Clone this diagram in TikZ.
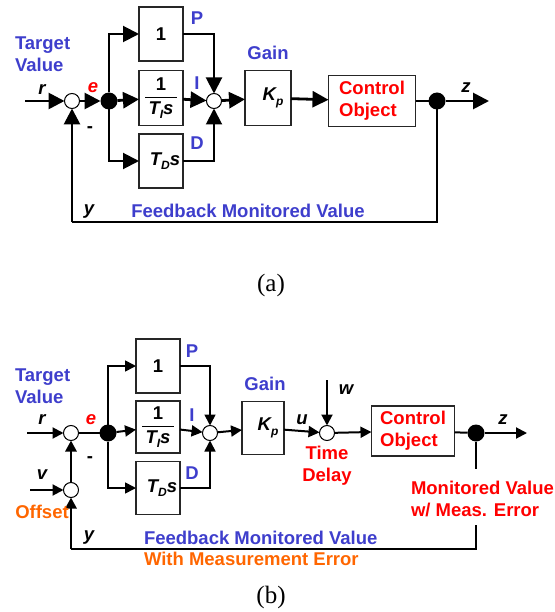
\documentclass[tikz,border=0pt]{standalone}
\usepackage{fontspec}
\usepackage{amsmath}
\setmainfont{Liberation Sans}
\newfontfamily\capfont{Liberation Serif}
\usetikzlibrary{arrows.meta}
\definecolor{lblblue}{RGB}{62,62,204}
\definecolor{lblred}{RGB}{255,0,0}
\definecolor{lblorange}{RGB}{255,102,0}
\newcommand{\lblsize}{\fontsize{18.5}{22}\selectfont}
\newcommand{\lowidx}[1]{\raisebox{-0.45ex}{\fontsize{12}{12}\selectfont #1}}
\newcommand{\fracTI}{$\genfrac{}{}{1.2pt}{0}{\text{\bfseries 1}}{\text{\bfseries\itshape\,T\lowidx{I}s\,}}$}

\begin{document}
\begin{tikzpicture}[
    x=1pt, y=-1pt,
    every node/.style={font=\lblsize\bfseries, inner sep=0pt, outer sep=0pt},
    blockbox/.style={draw=black!85, line width=1.2pt, fill=white},
    sumnode/.style={circle, draw=black, line width=1pt, fill=white, minimum size=15pt},
    dotnode/.style={circle, fill=black, minimum size=17pt},
    lblnode/.style={text=lblblue},
    varnode/.style={font=\lblsize\bfseries\itshape},
    capnode/.style={font=\capfont\fontsize{25}{28}\selectfont},
    tipA/.style={-{Triangle[length=16pt,width=16pt]}},
    tipB/.style={-{Triangle[length=11pt,width=11pt]}},
    sigA/.style={line width=2.8pt, tipA},
    branchA/.style={line width=2pt, tipA},
    fbA/.style={line width=1.5pt},
    sigB/.style={line width=2pt, tipB},
    branchB/.style={line width=1.7pt, tipB},
    fbB/.style={line width=1.7pt},
  ]
\useasboundingbox (0,0) rectangle (554,612);

% --- (a) PID loop
\node[sumnode] (sumA) at (72,101) {};
\node[dotnode] (juncA) at (109,101) {};
\node[blockbox, minimum width=44pt, minimum height=54pt] (boxPA) at (161,34) {1};
\node[blockbox, minimum width=44pt, minimum height=55pt] (boxIA) at (161,98) {\fracTI};
\node[blockbox, minimum width=44pt, minimum height=54pt] (boxDA) at (161,161) {\hspace*{8pt}\itshape T\lowidx{D}s};
\node[sumnode] (sumPidA) at (214,101) {};
\node[blockbox, minimum width=46pt, minimum height=55pt] (gainA) at (268,98) {\hspace*{10pt}\itshape K\lowidx{p}};
\node[blockbox, minimum width=87pt, minimum height=51pt, text=lblred, align=left] (plantA) at (372,101) {Control\\Object};
\node[dotnode] (outDotA) at (437,101) {};
\coordinate (inA) at (25,101);
\coordinate (outA) at (489,101);
\coordinate (fbCornerA) at (72,222);

\draw[sigA] (inA) -- (sumA);
\draw[sigA] (sumA) -- (juncA);
\draw[sigA] (juncA) -- (boxIA);
\draw[branchA] (juncA) |- (boxPA);
\draw[branchA] (juncA) |- (boxDA);
\draw[branchA] (boxPA) -| (sumPidA);
\draw[branchA] (boxDA) -| (sumPidA);
\draw[sigA] (boxIA) -- (sumPidA);
\draw[sigA] (sumPidA) -- (gainA);
\draw[sigA] (gainA) -- (plantA);
\draw[line width=2.8pt] (plantA) -- (outDotA);
\draw[sigA] (outDotA) -- (outA);
\draw[fbA] (outDotA) |- (fbCornerA);
\draw[sigA] (fbCornerA) -- (sumA);

\node[lblnode, align=left, anchor=west] (targetA) at (15,54) {Target\\Value};
\node[varnode] (rA) at (42,90) {r};
\node[varnode, text=lblred] (eA) at (93,88) {e};
\node (minusA) at (90,130) {-};
\node[varnode] (yA) at (89,212) {y};
\node[varnode] (zA) at (466,88) {z};
\node[lblnode] (pA) at (197,18) {P};
\node[lblnode] (iA) at (197,83) {I};
\node[lblnode] (dA) at (197,143) {D};
\node[lblnode] (gainTxtA) at (268,53) {Gain};
\node[lblnode] (fbTxtA) at (248,211) {Feedback Monitored Value};
\node[capnode] (capA) at (271,285) {(a)};

% --- (b) with disturbance, delay and measurement error
\node[sumnode] (sumB) at (71,433) {};
\node[sumnode] (offsetB) at (71,490) {};
\node[dotnode] (juncB) at (108,433) {};
\node[blockbox, minimum width=44pt, minimum height=54pt] (boxPB) at (158,366) {1};
\node[blockbox, minimum width=44pt, minimum height=52pt] (boxIB) at (158,427) {\fracTI};
\node[blockbox, minimum width=44pt, minimum height=53pt] (boxDB) at (158,488) {\hspace*{8pt}\itshape T\lowidx{D}s};
\node[sumnode] (sumPidB) at (210,433) {};
\node[blockbox, minimum width=42pt, minimum height=53pt] (gainB) at (263,428) {\hspace*{10pt}\itshape K\lowidx{p}};
\node[sumnode] (delayB) at (327,433) {};
\node[blockbox, minimum width=83pt, minimum height=50pt, text=lblred, align=left] (plantB) at (413,431) {Control\\Object};
\node[dotnode] (outDotB) at (476,433) {};
\coordinate (inB) at (27,433);
\coordinate (outB) at (527,433);
\coordinate (wInB) at (327,380);
\coordinate (vInB) at (30,490);
\coordinate (gapTopB) at (476,469);
\coordinate (gapBotB) at (476,525);
\coordinate (fbCornerB) at (71,549);

\draw[sigB] (inB) -- (sumB);
\draw[line width=2pt] (sumB) -- (juncB);
\draw[sigB] (juncB) -- (boxIB);
\draw[branchB] (juncB) |- (boxPB);
\draw[branchB] (juncB) |- (boxDB);
\draw[branchB] (boxPB) -| (sumPidB);
\draw[branchB] (boxDB) -| (sumPidB);
\draw[sigB] (boxIB) -- (sumPidB);
\draw[sigB] (sumPidB) -- (gainB);
\draw[sigB] (gainB) -- (delayB);
\draw[sigB] (wInB) -- (delayB);
\draw[sigB] (delayB) -- (plantB);
\draw[line width=2pt] (plantB) -- (outDotB);
\draw[sigB] (outDotB) -- (outB);
\draw[fbB] (outDotB) -- (gapTopB);
\draw[fbB] (gapBotB) |- (fbCornerB);
\draw[sigB, line width=2.8pt] (fbCornerB) -- (offsetB);
\draw[sigB, line width=2.8pt] (offsetB) -- (sumB);
\draw[sigB] (vInB) -- (offsetB);

\node[lblnode, align=left, anchor=west] (targetB) at (15,386) {Target\\Value};
\node[varnode] (rB) at (42,420) {r};
\node[varnode, text=lblred] (eB) at (91,420) {e};
\node (minusB) at (90,460) {-};
\node[varnode] (vB) at (42,475) {v};
\node[text=lblorange] (offTxtB) at (42,512) {Offset};
\node[varnode] (yB) at (89,538) {y};
\node[lblnode] (pB) at (192,351) {P};
\node[lblnode] (iB) at (192,415) {I};
\node[lblnode] (dB) at (192,473) {D};
\node[lblnode] (gainTxtB) at (265,384) {Gain};
\node[varnode] (uB) at (302,420) {u};
\node[varnode] (wB) at (346,390) {w};
\node[text=lblred, align=center] (delayTxtB) at (327,466) {Time\\Delay};
\node[varnode] (zB) at (503,420) {z};
\node[text=lblred, align=left, anchor=west] (measTxtB) at (411,499) {Monitored Value\\w/ Meas. Error};
\node[lblnode, anchor=west] (fbTxtB) at (144,538) {Feedback Monitored Value};
\node[text=lblorange, anchor=west] (errTxtB) at (144,559) {With Measurement Error};
\node[capnode] (capB) at (271,597) {(b)};
\end{tikzpicture}
\end{document}
